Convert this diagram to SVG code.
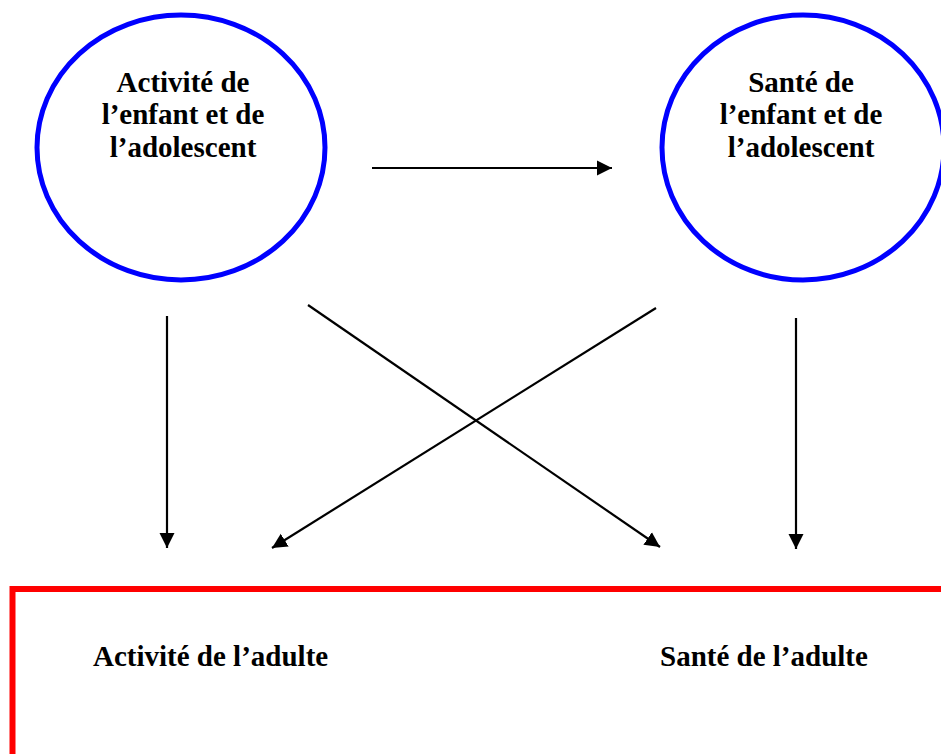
<svg xmlns="http://www.w3.org/2000/svg" width="941" height="754" viewBox="0 0 941 754">
<style>
.circ{fill:#fff;stroke:#0000ff;stroke-width:5}
.box{fill:#fff;stroke:#ff0000;stroke-width:6}
.lbl{font-family:"Liberation Serif","Times New Roman",serif;font-weight:bold;font-size:29px;fill:#000;text-anchor:middle}
.lblL{font-family:"Liberation Serif","Times New Roman",serif;font-weight:bold;font-size:29px;fill:#000}
.arr{stroke:#000;stroke-width:2.2;fill:none;marker-end:url(#ah)}
</style>
<defs>
<marker id="ah" markerUnits="userSpaceOnUse" markerWidth="16" markerHeight="16" viewBox="0 0 16 16" refX="15" refY="8" orient="auto">
<path d="M0,0.5 L15,8 L0,15.5 Z" fill="#000"/>
</marker>
</defs>
<rect width="941" height="754" fill="#fff"/>
<g id="node-activite-enfant">
<ellipse class="circ" cx="181" cy="147.5" rx="144" ry="132.5"/>
<text class="lbl" x="183" y="92">Activité de</text>
<text class="lbl" x="183" y="124">l’enfant et de</text>
<text class="lbl" x="183" y="157">l’adolescent</text>
</g>
<g id="node-sante-enfant">
<ellipse class="circ" cx="803" cy="147.5" rx="141" ry="132.5"/>
<text class="lbl" x="801" y="92">Santé de</text>
<text class="lbl" x="801" y="124">l’enfant et de</text>
<text class="lbl" x="801" y="157">l’adolescent</text>
</g>
<g id="node-adulte">
<rect class="box" x="12.5" y="589" width="960" height="220"/>
<text class="lblL" x="93" y="666">Activité de l’adulte</text>
<text class="lblL" x="660" y="666">Santé de l’adulte</text>
</g>
<g id="connectors">
<line class="arr" x1="372" y1="168" x2="612" y2="168"/>
<line class="arr" x1="167" y1="316" x2="167" y2="548"/>
<line class="arr" x1="796" y1="318" x2="796" y2="549"/>
<line class="arr" x1="308" y1="305" x2="660" y2="547"/>
<line class="arr" x1="656" y1="308" x2="272" y2="548"/>
</g>
</svg>
